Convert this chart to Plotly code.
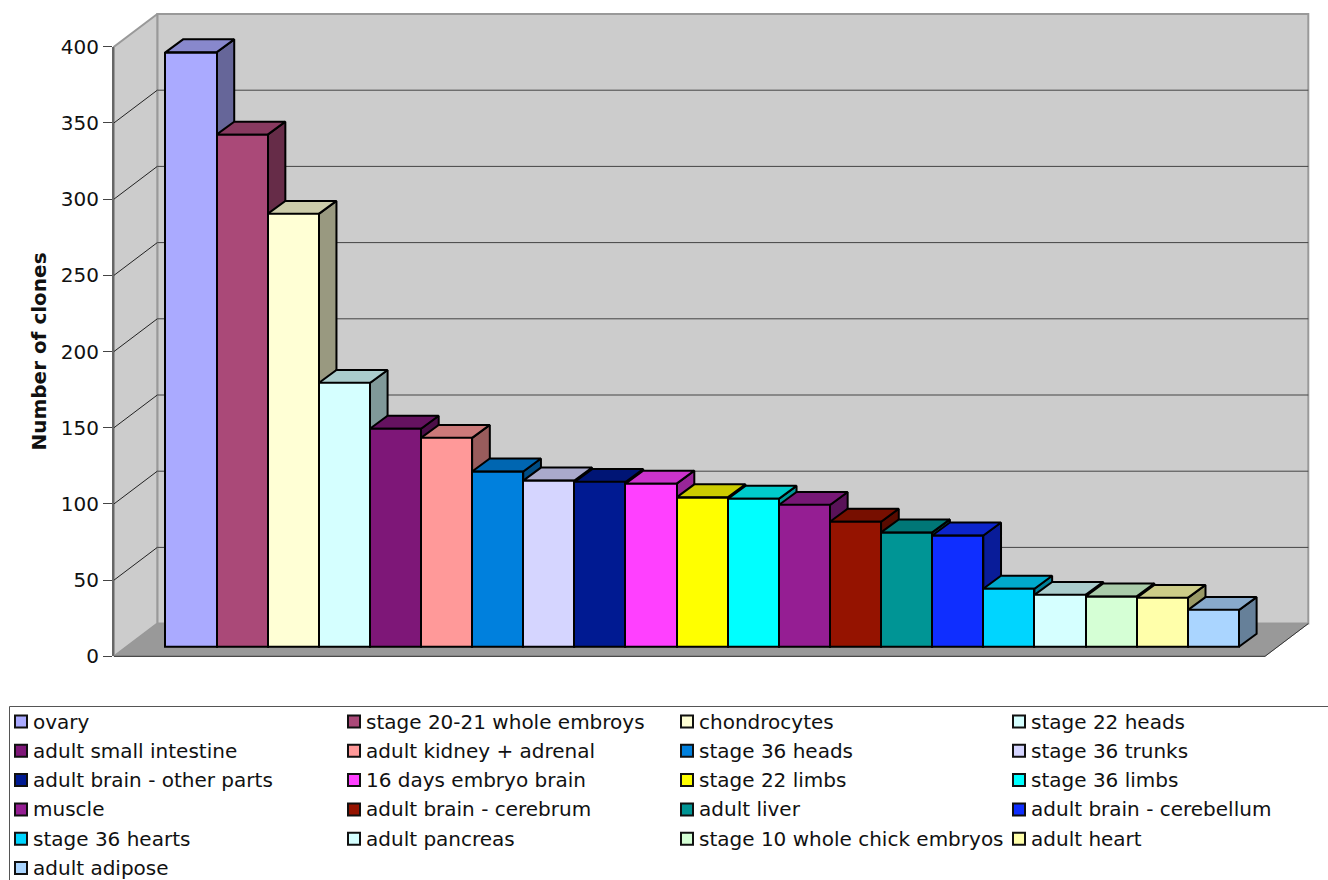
import plotly.graph_objects as go

# Clone counts per library, in display order
categories = [
    "ovary", "stage 20-21 whole embroys", "chondrocytes", "stage 22 heads",
    "adult small intestine", "adult kidney + adrenal", "stage 36 heads", "stage 36 trunks",
    "adult brain - other parts", "16 days embryo brain", "stage 22 limbs", "stage 36 limbs",
    "muscle", "adult brain - cerebrum", "adult liver", "adult brain - cerebellum",
    "stage 36 hearts", "adult pancreas", "stage 10 whole chick embryos", "adult heart",
    "adult adipose",
]
clones = [390, 336, 284, 173, 143, 137, 115, 109, 108, 107, 98, 97, 93, 82, 75, 73, 38, 34, 33, 32, 24]
colors = [
    "#AAAAFF", "#AA4978", "#FFFFD5", "#D5FFFF", "#7E1778", "#FF9999", "#0080DD", "#D5D5FF",
    "#001A92", "#FF40FF", "#FFFF00", "#00FFFF", "#951E93", "#951300", "#009595", "#0F2EFF",
    "#00D5FF", "#D5FFFF", "#D5FFD5", "#FFFFAA", "#AAD5FF",
]
y_ticks = [0, 50, 100, 150, 200, 250, 300, 350, 400]

FONT = "DejaVu Sans"
FONT_SIZE = 20
WIDTH, HEIGHT = 1328, 880

# Plot box in page pixels and the scales of the oblique projection
BOX_L, BOX_R, BOX_T, BOX_B = 106, 1316, 6, 664
AXIS_X, ZERO_Y, TOP_Y = 114, 656.3, 46.7
BAR0_X, BAR_W = 165.4, 51.12
PX_PER_UNIT = (ZERO_Y - TOP_Y) / 400
EDGE = 2


def shade(hex_color, factor):
    r, g, b = (int(hex_color[i:i + 2], 16) for i in (1, 3, 5))
    return f"rgb({round(r * factor)},{round(g * factor)},{round(b * factor)})"


def x_data(px):
    return (px - BAR0_X) / BAR_W


def dy_data(px):
    return px / PX_PER_UNIT


# Depth offsets, expressed in axis units
WALL_DX, WALL_DY = 43.3 / BAR_W, dy_data(32.7)
FRONT_BASE = dy_data(ZERO_Y - 646.7)
BAR_DX, BAR_DY = 17.7 / BAR_W, dy_data(13)
XL = x_data(AXIS_X)
XR = x_data(1265)

fig = go.Figure()


def polygon(xs, ys, fill, line_color, line_width):
    fig.add_trace(go.Scatter(
        x=xs + xs[:1], y=ys + ys[:1], mode="lines", fill="toself", fillcolor=fill,
        line=dict(color=line_color, width=line_width), hoverinfo="skip",
        showlegend=False, xaxis="x", yaxis="y",
    ))


# Walls and floor
top = 400 + WALL_DY
polygon([XL + WALL_DX, XR + WALL_DX, XR + WALL_DX, XL + WALL_DX],
        [WALL_DY, WALL_DY, top, top], "#CCCCCC", "#999999", 2)
polygon([XL, XL + WALL_DX, XL + WALL_DX, XL], [0, WALL_DY, top, 400], "#CCCCCC", "#999999", 2)
polygon([XL, XL + WALL_DX, XR + WALL_DX, XR], [0, WALL_DY, WALL_DY, 0], "#999999", "#999999", 1)

# Front and right edges of the floor
fig.add_trace(go.Scatter(
    x=[XL, XR, XR + WALL_DX], y=[0, 0, WALL_DY], mode="lines",
    line=dict(color="#333333", width=1), hoverinfo="skip", showlegend=False, xaxis="x", yaxis="y",
))

# Gridlines run along the side wall, then across the back wall
for t in y_ticks[1:-1]:
    fig.add_trace(go.Scatter(
        x=[XL, XL + WALL_DX], y=[t, t + WALL_DY], mode="lines",
        line=dict(color="#222222", width=1), hoverinfo="skip", showlegend=False, xaxis="x", yaxis="y",
    ))
    fig.add_trace(go.Scatter(
        x=[XL + WALL_DX, XR + WALL_DX], y=[t + WALL_DY, t + WALL_DY], mode="lines",
        line=dict(color="#444444", width=1), hoverinfo="skip", showlegend=False, xaxis="x", yaxis="y",
    ))

# Right-hand sides first, so each bar's top can cover its neighbour's side
for i, (v, c) in enumerate(zip(clones, colors)):
    y0, y1 = FRONT_BASE, FRONT_BASE + v
    polygon([i + 1, i + 1, i + 1 + BAR_DX, i + 1 + BAR_DX],
            [y0, y1, y1 + BAR_DY, y0 + BAR_DY], shade(c, 0.6), "#000000", EDGE)
for i, (v, c) in enumerate(zip(clones, colors)):
    y1 = FRONT_BASE + v
    polygon([i, i + 1, i + 1 + BAR_DX, i + BAR_DX],
            [y1, y1, y1 + BAR_DY, y1 + BAR_DY], shade(c, 0.8), "#000000", EDGE)

# Front faces
fig.add_trace(go.Bar(
    x=[i + 0.5 for i in range(len(clones))], y=clones, base=FRONT_BASE, width=1,
    marker=dict(color=colors, line=dict(color="#000000", width=EDGE)),
    hovertext=categories, hoverinfo="text+y", showlegend=False, xaxis="x2", yaxis="y2",
))

box_w, box_h = BOX_R - BOX_L, BOX_B - BOX_T


def paper_x(px):
    return (px - BOX_L) / box_w


def paper_y(px):
    return (BOX_B - px) / box_h


# Legend, laid out in four columns
SWATCH_X = [15, 348, 681, 1013]
TEXT_X = [34, 367, 699.5, 1032]
ROW_Y0, ROW_STEP, SWATCH = 721.5, 29.3, 12

shapes = [dict(
    type="path", xref="paper", yref="paper",
    path=f"M {paper_x(9.5)} {paper_y(881)} L {paper_x(9.5)} {paper_y(706.5)} L {paper_x(1329)} {paper_y(706.5)}",
    line=dict(color="#555555", width=1),
)]
annotations = []
for i, (name, c) in enumerate(zip(categories, colors)):
    col, row = i % 4, i // 4
    yc = ROW_Y0 + row * ROW_STEP
    shapes.append(dict(
        type="rect", xref="paper", yref="paper",
        x0=paper_x(SWATCH_X[col]), x1=paper_x(SWATCH_X[col] + SWATCH),
        y0=paper_y(yc + SWATCH / 2), y1=paper_y(yc - SWATCH / 2),
        fillcolor=c, line=dict(color="#111111", width=2),
    ))
    annotations.append(dict(
        text=name, xref="paper", yref="paper", x=paper_x(TEXT_X[col]), y=paper_y(yc),
        xanchor="left", yanchor="middle", showarrow=False, align="left", borderpad=0, borderwidth=0,
        xshift=-1, font=dict(family=FONT, size=FONT_SIZE, color="#111111"),
    ))

fig.update_layout(
    width=WIDTH, height=HEIGHT, autosize=False,
    margin=dict(l=BOX_L, r=WIDTH - BOX_R, t=BOX_T, b=HEIGHT - BOX_B, pad=0),
    paper_bgcolor="#FFFFFF", plot_bgcolor="rgba(0,0,0,0)",
    font=dict(family=FONT, size=FONT_SIZE, color="#111111"),
    showlegend=False, shapes=shapes, annotations=annotations,
    bargap=0,
    xaxis=dict(domain=[0, 1], range=[x_data(BOX_L), x_data(BOX_R)], visible=False, fixedrange=True),
    yaxis=dict(domain=[0, 1], range=[(ZERO_Y - BOX_B) / PX_PER_UNIT, (ZERO_Y - BOX_T) / PX_PER_UNIT],
               visible=False, fixedrange=True),
    xaxis2=dict(domain=[paper_x(AXIS_X), 1], range=[x_data(AXIS_X), x_data(BOX_R)], anchor="y2",
                visible=False, fixedrange=True),
    yaxis2=dict(
        domain=[paper_y(ZERO_Y), paper_y(TOP_Y)], range=[0, 400], anchor="x2", side="left",
        tickmode="array", tickvals=y_ticks, ticks="outside", ticklen=9, tickwidth=1, tickcolor="#444444",
        showline=True, linecolor="#666666", linewidth=2, showgrid=False, zeroline=False,
        tickfont=dict(family=FONT, size=FONT_SIZE, color="#111111"), fixedrange=True, automargin=False,
        title=dict(text="<b>Number of clones</b>", standoff=9, font=dict(family=FONT, size=FONT_SIZE, color="#111111")),
    ),
)

fig.write_html("out.html", config=dict(displayModeBar=False))
